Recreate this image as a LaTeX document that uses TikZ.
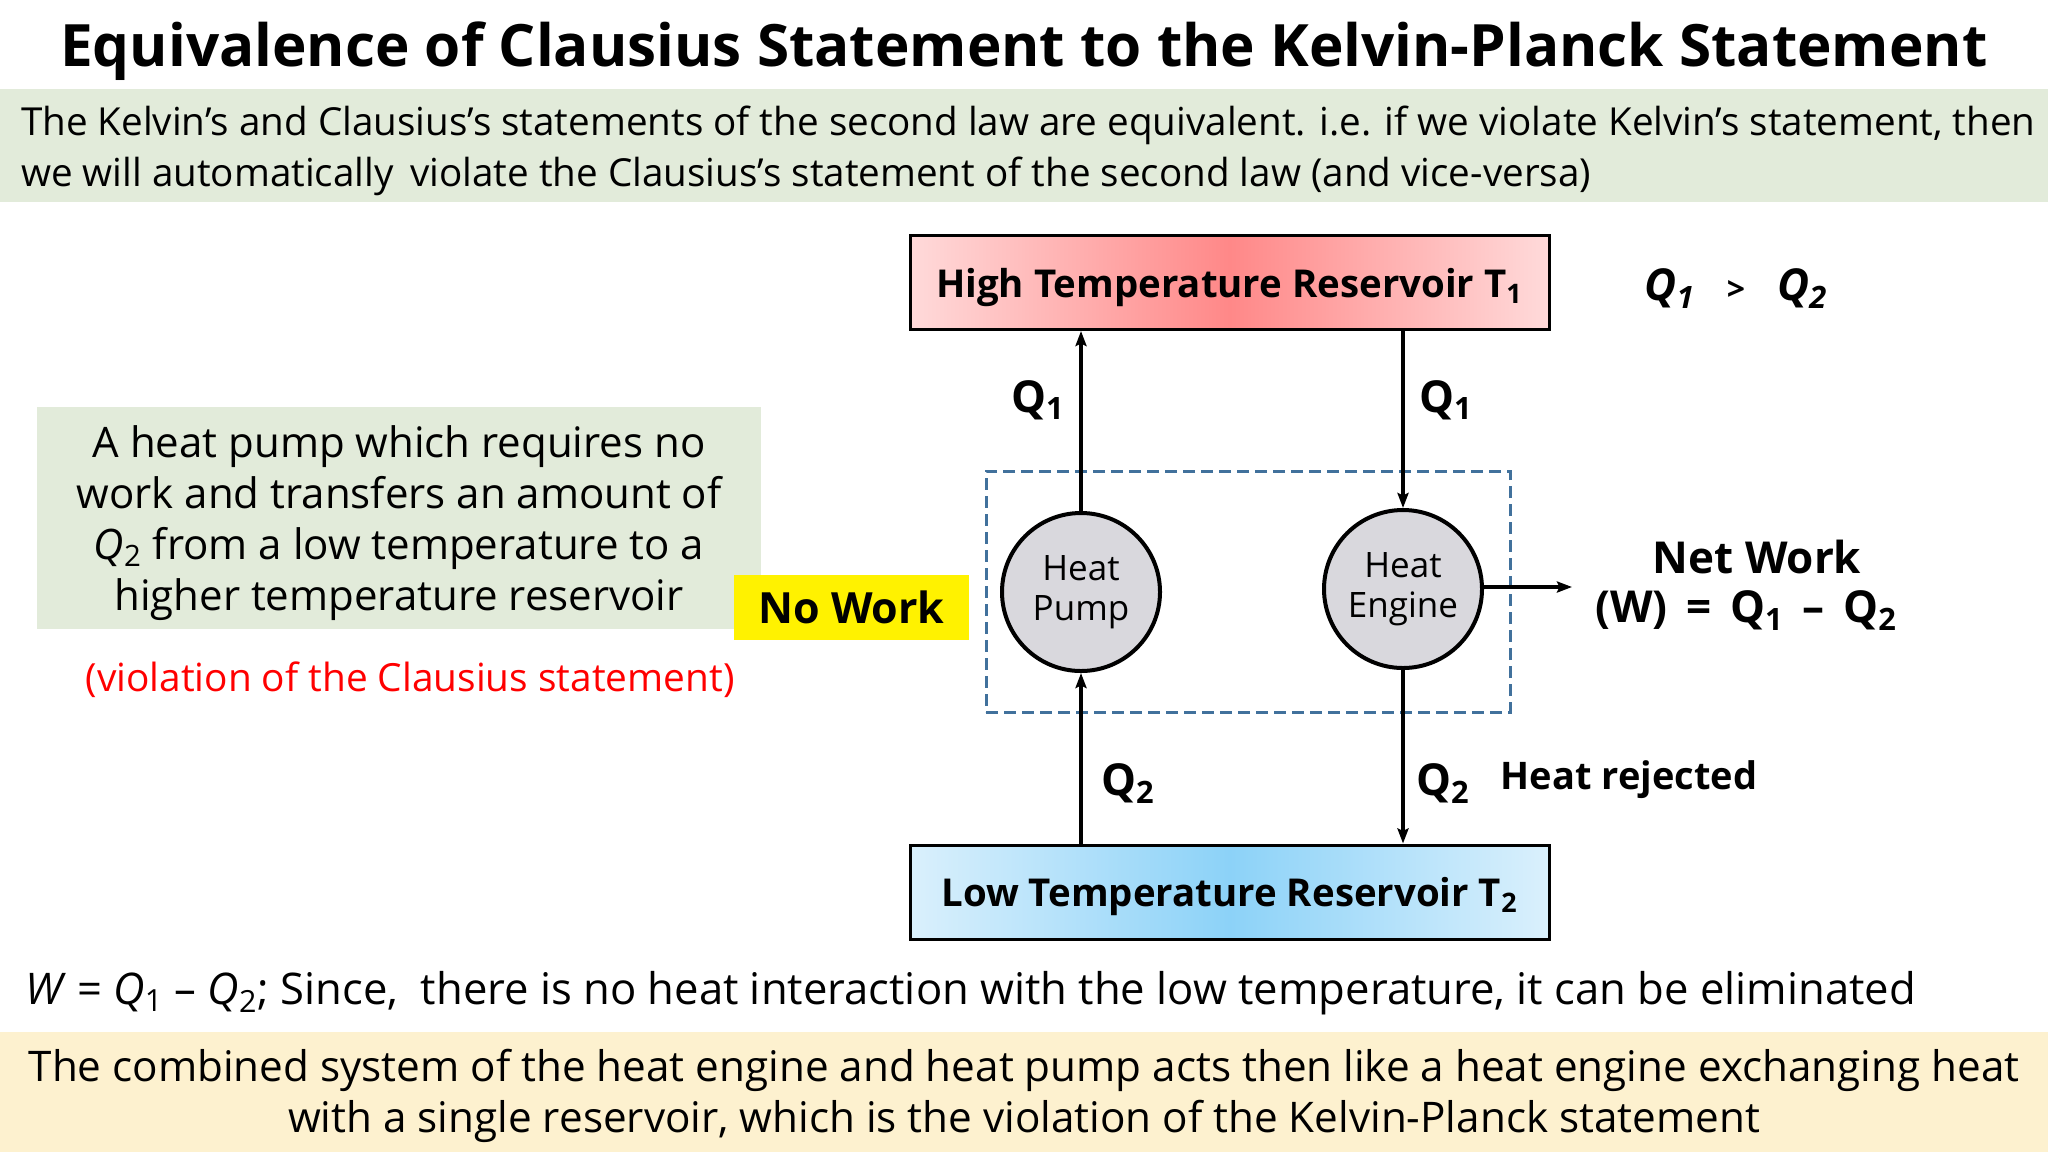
\documentclass[tikz,border=0pt]{standalone}
\usepackage{fontspec}
\setmainfont{Open Sans}
\usetikzlibrary{arrows.meta}
\definecolor{bandgreen}{HTML}{E2EBDA}
\definecolor{bandyellow}{HTML}{FDF1CF}
\definecolor{redEdge}{HTML}{FFDADA}
\definecolor{redMid}{HTML}{FF8888}
\definecolor{blueEdge}{HTML}{DAF0FC}
\definecolor{blueMid}{HTML}{8CD2F8}
\definecolor{dashblue}{HTML}{41719C}
\definecolor{circgray}{HTML}{D9D8DD}
\definecolor{violred}{HTML}{FF0000}
\begin{document}
\begin{tikzpicture}[x=0.5pt,y=-0.5pt,
  arr/.style={line width=1.6pt,-{Stealth[length=7.5pt,width=5.5pt,inset=1.2pt]}},
  res/.style={draw,line width=1.5pt,minimum width=319.5pt,minimum height=47pt,inner sep=0pt,
              text depth=0pt,font=\bfseries\fontsize{19.2}{21}\selectfont},
  machine/.style={circle,draw,line width=2pt,fill=circgray,minimum size=79pt,inner sep=0pt,
              align=center,font=\fontsize{17.5}{20}\selectfont},
  qlab/.style={font=\bfseries\fontsize{22}{24}\selectfont}]
\fill[white] (0,0) rectangle (2048,1152);
\useasboundingbox (0,0) rectangle (2048,1152);

% title
\node[font=\bfseries\fontsize{29.2}{34}\selectfont] (title) at (1024,51)
  {Equivalence of Clausius Statement to the Kelvin-Planck Statement};

% intro band
\fill[bandgreen] (0,89) rectangle (2048,202);
\node[font=\fontsize{19.3}{25.5}\selectfont,anchor=west,align=left] (intro) at (14,151)
  {The Kelvin’s and Clausius’s statements of the second law are equivalent. i.e. if we violate Kelvin’s statement, then\\
   we will automatically\, violate the Clausius’s statement of the second law (and vice-versa)};

% reservoirs
\node[res,left color=redEdge,right color=redEdge,middle color=redMid] (ht) at (1229.5,282.5)
  {High Temperature Reservoir T\textsubscript{1}};
\node[res,left color=blueEdge,right color=blueEdge,middle color=blueMid] (lt) at (1229.5,892)
  {Low Temperature Reservoir T\textsubscript{2}};

% system boundary
\node[draw=dashblue,dash pattern=on 6pt off 3pt,line width=1.5pt,minimum width=262pt,
      minimum height=120.5pt,inner sep=0pt] (sys) at (1248,591.5) {};

% machines
\node[machine] (pump) at (1081,592) {Heat\\Pump};
\node[machine] (eng) at (1403,589) {Heat\\Engine};

% heat flows
\draw[arr] (pump.north) -- (pump.north |- ht.south);
\draw[arr] (ht.south -| eng.north) -- (eng.north);
\draw[arr] (lt.north -| pump.south) -- (pump.south);
\draw[arr] (eng.south) -- (eng.south |- lt.north);
\coordinate (wend) at (1572,587);
\draw[arr] (eng.east |- wend) -- (wend);

% flow labels
\node[qlab] (q1l) at (1038,400) {Q\textsubscript{1}};
\node[qlab] (q1r) at (1446,400) {Q\textsubscript{1}};
\node[qlab] (q2l) at (1128,784) {Q\textsubscript{2}};
\node[qlab] (q2r) at (1443,784) {Q\textsubscript{2}};
\node[font=\bfseries\fontsize{19}{22}\selectfont] (rej) at (1629,780) {Heat rejected};

% right-side texts
\node[font=\bfseries\itshape\fontsize{22}{24}\selectfont] (ineq) at (1736,289)
  {Q\textsubscript{1}\hspace{16pt}{\upshape\fontsize{16}{18}\selectfont >}\hspace{16pt}Q\textsubscript{2}};
\node[qlab] (net) at (1757,557) {Net Work};
\node[qlab] (weq) at (1746,611) {(W)\ \,=\ \,Q\textsubscript{1}\ \,–\ \,Q\textsubscript{2}};

% left claim
\node[fill=bandgreen,minimum width=362pt,minimum height=111pt,align=center,
      font=\fontsize{21}{25.5}\selectfont] (claim) at (399,518) {};
\node[align=center,font=\fontsize{21}{25.5}\selectfont] (claimtext) at (399,523)
  {A heat pump which requires no\\work and transfers an amount of\\
   \textit{Q}\textsubscript{2} from a low temperature to a\\higher temperature reservoir};
\node[fill=yellow,minimum width=117.5pt,minimum height=32.5pt,inner sep=0pt,
      font=\bfseries\fontsize{21.5}{24}\selectfont] (nowork) at (851.5,607.5) {No Work};
\node[text=violred,font=\fontsize{19.4}{22}\selectfont] (viol) at (410,680)
  {(violation of the Clausius statement)};

% bottom lines
\node[font=\fontsize{21.8}{25.5}\selectfont,anchor=west] (elim) at (18,993)
  {\textit{W} = \textit{Q}\textsubscript{1} – \textit{Q}\textsubscript{2}; Since,\ \ there is no heat interaction with the low temperature, it can be eliminated};
\fill[bandyellow] (0,1032) rectangle (2048,1152);
\node[font=\fontsize{21.1}{25.5}\selectfont,align=center] (concl) at (1024,1096)
  {The combined system of the heat engine and heat pump acts then like a heat engine exchanging heat\\
   with a single reservoir, which is the violation of the Kelvin-Planck statement};
\end{tikzpicture}
\end{document}
